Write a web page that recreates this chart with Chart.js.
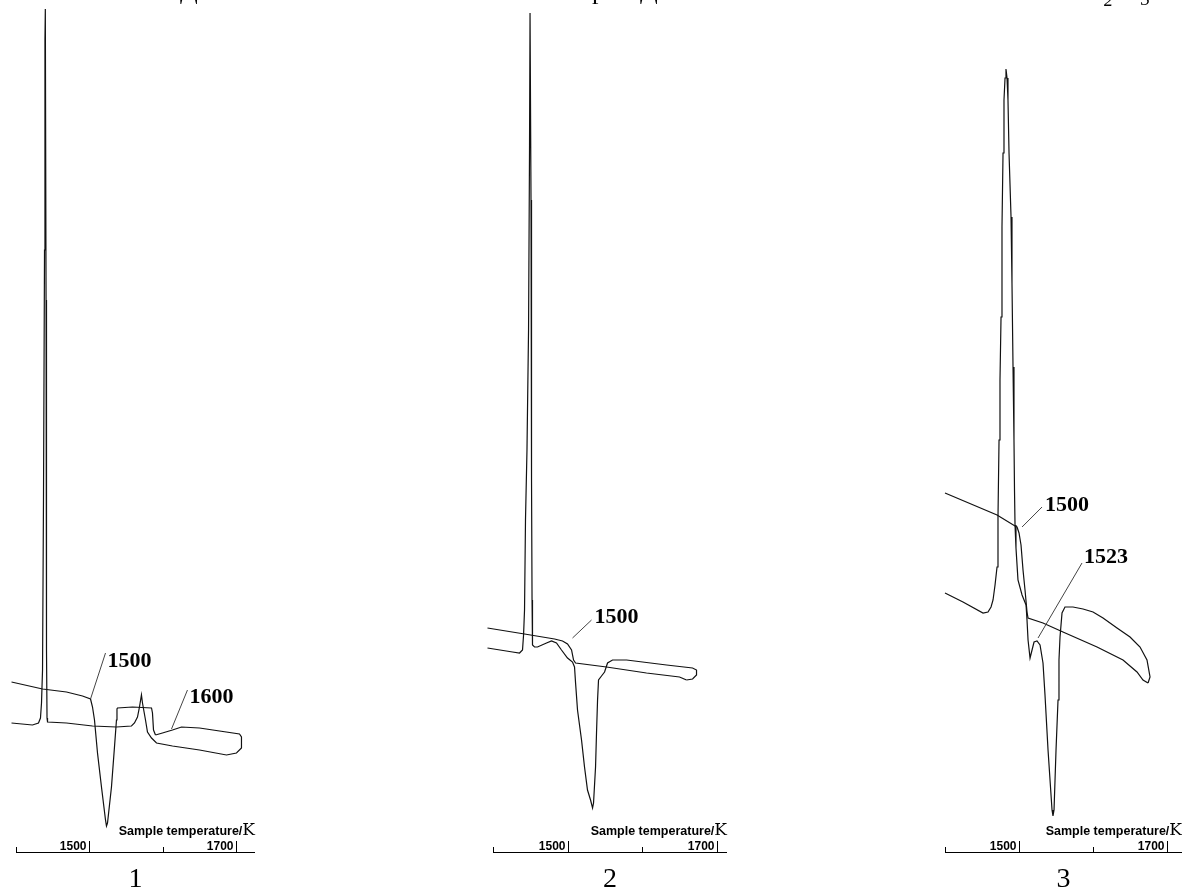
<!DOCTYPE html>
<html>
<head>
<meta charset="utf-8">
<script src="https://cdn.jsdelivr.net/npm/chart.js@4.4.1/dist/chart.umd.min.js"></script>
<style>
  html, body { margin: 0; padding: 0; background: #fff; }
  body { width: 1182px; height: 888px; position: relative; overflow: hidden; }
  canvas { position: absolute; top: 0; }
  .cut { position: absolute; font-family: "Liberation Serif", "Times New Roman", serif; font-size: 26px; line-height: 26px; color: #000; opacity: 0.99; will-change: transform; }
</style>
</head>
<body>
<div class="cut" style="left:180px; top:-22px;">Д</div>
<div class="cut" style="left:592px; top:-22px;">р</div>
<div class="cut" style="left:640px; top:-22px;">Д</div>
<div class="cut" style="left:1104px; top:-13px; font-size:18px; font-style:italic;">2</div>
<div class="cut" style="left:1141px; top:-14px; font-size:18px; font-style:italic;">3</div>

<canvas id="c1" width="270" height="888" style="left:0px"></canvas>
<canvas id="c2" width="260" height="888" style="left:480px"></canvas>
<canvas id="c3" width="252" height="888" style="left:930px"></canvas>

<script>
// Sample temperature (K) vs signal (arbitrary units)

// x axis ticks
const tickValues = [1400, 1500, 1600, 1700];
const tickLabels = ['', '1500', '', '1700'];
const axisTitle = 'Sample temperature/';
const axisUnit = 'K';

// record 1
const dta1 = [
    [1393.9, 129], [1422.4, 127], [1430.6, 129], [1433.3, 134], [1434.7, 149], [1436.1, 182],
    [1437.4, 352], [1438.8, 602], [1439.4, 812], [1439.9, 843], [1440.5, 843], [1440.9, 552],
    [1441.5, 202], [1442.2, 134], [1442.9, 130], [1468.7, 129], [1504.1, 126], [1536.7, 125],
    [1557.1, 126], [1561.2, 129], [1565.3, 135], [1568.0, 145], [1570.7, 157], [1572.1, 149],
    [1576.2, 132], [1578.9, 120], [1584.4, 114], [1591.2, 109], [1612.9, 106], [1649.7, 102],
    [1686.4, 97], [1700.0, 99], [1706.8, 104], [1706.8, 115], [1704.1, 118], [1649.7, 124],
    [1625.2, 125], [1612.9, 122], [1599.3, 119], [1589.8, 117]
];
const tg1 = [
    [1393.9, 170], [1436.1, 163], [1468.7, 160], [1490.5, 156], [1501.4, 153], [1504.1, 145],
    [1506.8, 132], [1510.9, 99], [1516.3, 65], [1521.8, 32], [1523.1, 26], [1524.5, 29],
    [1529.9, 65], [1534.0, 105], [1536.7, 132], [1537.4, 143], [1538.1, 144], [1558.5, 145],
    [1584.4, 144], [1585.7, 139], [1587.1, 122], [1589.8, 117]
];
const notes1 = [
    { text: '1500', at: [1524.5, 185], from: [1521.8, 199], to: [1501.4, 153] },
    { text: '1600', at: [1636.1, 149], from: [1633.3, 162], to: [1611.6, 123] }
];

// record 2
const dta2 = [
    [1392.6, 204], [1426.2, 200], [1435.6, 199], [1439.6, 202], [1441.0, 217], [1442.3, 242],
    [1443.6, 332], [1445.6, 402], [1447.7, 522], [1449.0, 702], [1449.7, 839], [1450.3, 839],
    [1451.0, 652], [1451.7, 372], [1452.4, 252], [1453.0, 207], [1455.7, 205], [1459.7, 205],
    [1471.8, 209], [1478.5, 211], [1485.2, 209], [1491.9, 202], [1500.0, 194], [1506.7, 190],
    [1509.4, 185], [1510.8, 169], [1513.4, 142], [1518.8, 112], [1522.8, 85], [1526.8, 62],
    [1530.9, 52], [1533.6, 44], [1534.9, 49], [1537.6, 85], [1538.9, 119], [1540.3, 152],
    [1541.6, 172], [1545.6, 176], [1549.7, 180], [1553.7, 189], [1560.4, 192], [1579.2, 192],
    [1632.9, 187], [1667.8, 184], [1673.1, 182], [1673.1, 177], [1667.8, 173], [1659.7, 172]
];
const tg2 = [
    [1392.6, 224], [1442.3, 218], [1482.6, 213], [1493.3, 211], [1500.0, 208], [1505.4, 202],
    [1508.1, 192], [1510.8, 189], [1552.3, 185], [1606.0, 179], [1650.3, 175], [1659.7, 172]
];
const notes2 = [
    { text: '1500', at: [1536.2, 229], from: [1532.2, 232], to: [1506.7, 214] }
];

// record 3
const dta3 = [
    [1400.0, 259], [1424.3, 250], [1451.4, 239], [1458.1, 240], [1462.2, 245], [1464.9, 252],
    [1467.6, 267], [1470.3, 285], [1471.6, 335], [1473.0, 412], [1474.3, 472], [1475.7, 535],
    [1477.0, 625], [1478.4, 699], [1479.7, 752], [1481.1, 774], [1482.4, 783], [1483.8, 774],
    [1485.1, 752], [1486.5, 699], [1489.2, 635], [1490.5, 569], [1491.9, 485], [1493.2, 412],
    [1493.9, 362], [1494.6, 327], [1495.9, 304], [1498.6, 272], [1504.1, 257], [1509.5, 247],
    [1510.8, 232], [1512.2, 212], [1514.9, 194], [1517.6, 202], [1520.3, 210], [1524.3, 211],
    [1528.4, 207], [1532.4, 189], [1535.1, 157], [1539.2, 102], [1544.6, 42], [1545.9, 36],
    [1547.3, 42], [1550.0, 102], [1552.7, 152], [1554.0, 192], [1555.4, 215], [1558.1, 239],
    [1562.1, 245], [1572.9, 245], [1586.5, 243], [1600.0, 240], [1613.5, 234], [1632.4, 224],
    [1650.0, 215], [1663.5, 205], [1672.9, 192], [1677.0, 175], [1674.3, 169]
];
const tg3 = [
    [1400.0, 359], [1470.3, 337], [1494.6, 326], [1497.3, 325], [1500.0, 319], [1502.7, 307],
    [1505.4, 282], [1508.1, 262], [1510.8, 240], [1512.2, 234], [1532.4, 229], [1559.4, 220],
    [1605.4, 205], [1640.5, 192], [1659.4, 180], [1667.5, 172], [1674.3, 169]
];
const notes3 = [
    { text: '1500', at: [1535.1, 341], from: [1531.1, 345], to: [1504.1, 325] },
    { text: '1523', at: [1587.8, 289], from: [1585.1, 289], to: [1525.7, 214] }
];

// draws the temperature axis, its title, the curve labels and the record number
const dtaAxis = {
    id: 'dtaAxis',
    afterDatasetsDraw(chart, args, opts) {
        const { ctx, chartArea, scales: { x, y } } = chart;
        const base = chartArea.bottom;
        ctx.save();
        ctx.strokeStyle = '#000';
        ctx.fillStyle = '#000';
        ctx.lineWidth = 1;

        // axis line
        ctx.beginPath();
        ctx.moveTo(chartArea.left, base + 0.5);
        ctx.lineTo(chartArea.right, base + 0.5);
        ctx.stroke();

        ctx.font = 'bold 12px "Liberation Sans", Arial, sans-serif';
        ctx.textAlign = 'right';
        ctx.textBaseline = 'alphabetic';
        tickValues.forEach((v, i) => {
            const px = Math.round(x.getPixelForValue(v)) + 0.5;
            const len = tickLabels[i] ? 11 : 5;
            ctx.beginPath();
            ctx.moveTo(px, base);
            ctx.lineTo(px, base - len);
            ctx.stroke();
            if (tickLabels[i]) ctx.fillText(tickLabels[i], px - 3, base - 2);
        });

        // axis title
        ctx.font = '17px "DejaVu Serif", serif';
        const kw = ctx.measureText(axisUnit).width;
        ctx.textAlign = 'right';
        ctx.fillText(axisUnit, chartArea.right + opts.titleShift, base - 17);
        ctx.font = 'bold 12.5px "Liberation Sans", Arial, sans-serif';
        ctx.fillText(axisTitle, chartArea.right + opts.titleShift - kw, base - 17);

        // curve labels with leader lines
        ctx.strokeStyle = '#444';
        ctx.font = 'bold 22px "Liberation Serif", "Times New Roman", serif';
        ctx.textAlign = 'left';
        opts.notes.forEach(n => {
            ctx.beginPath();
            ctx.moveTo(x.getPixelForValue(n.from[0]), y.getPixelForValue(n.from[1]));
            ctx.lineTo(x.getPixelForValue(n.to[0]), y.getPixelForValue(n.to[1]));
            ctx.stroke();
            ctx.fillText(n.text, x.getPixelForValue(n.at[0]), y.getPixelForValue(n.at[1]));
        });

        // record number under the axis
        ctx.font = '28px "Liberation Serif", "Times New Roman", serif';
        ctx.textAlign = 'center';
        ctx.fillText(opts.number, (chartArea.left + chartArea.right) / 2, base + 35);
        ctx.restore();
    }
};

function toPoints(pairs) {
    return pairs.map(p => ({ x: p[0], y: p[1] }));
}

function makeRecord(id, series, xMax, pad, number, notes, titleShift) {
    const ctx = document.getElementById(id).getContext('2d');
    return new Chart(ctx, {
        type: 'scatter',
        data: {
            datasets: series.map(s => ({
                data: toPoints(s),
                showLine: true,
                borderColor: '#111',
                borderWidth: 1.2,
                pointRadius: 0,
                tension: 0,
                clip: false
            }))
        },
        options: {
            responsive: false,
            animation: false,
            layout: { padding: pad },
            plugins: {
                legend: { display: false },
                tooltip: { enabled: false },
                dtaAxis: { number: number, notes: notes, titleShift: titleShift }
            },
            scales: {
                x: { type: 'linear', min: 1400, max: xMax, display: false },
                y: { type: 'linear', min: 0, max: 852, display: false }
            }
        },
        plugins: [dtaAxis]
    });
}

makeRecord('c1', [dta1, tg1], 1725.2, { left: 16, right: 15, top: 0, bottom: 36 }, '1', notes1, 0);
makeRecord('c2', [dta2, tg2], 1714.0, { left: 13, right: 13, top: 0, bottom: 36 }, '2', notes2, 0);
makeRecord('c3', [dta3, tg3], 1720.2, { left: 15, right: 0, top: 0, bottom: 36 }, '3', notes3, 0);
</script>
</body>
</html>
